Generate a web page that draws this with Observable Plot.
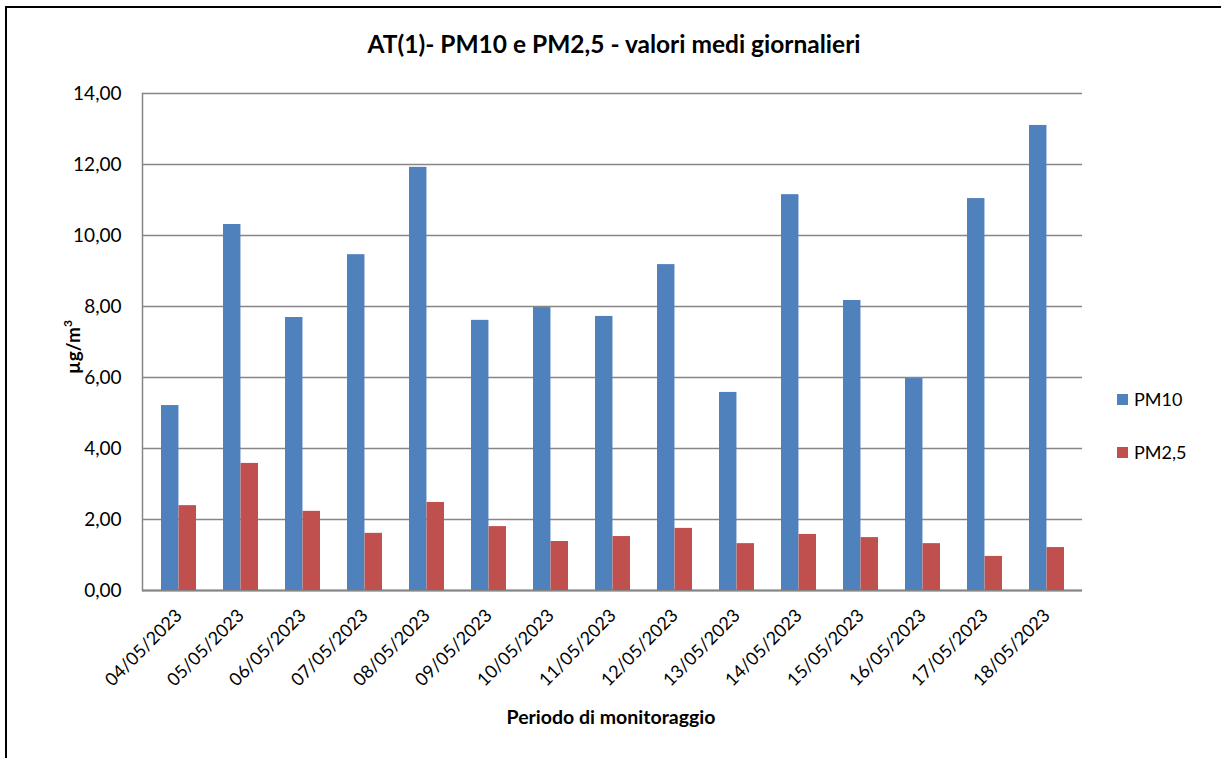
<!DOCTYPE html>
<html>
<head>
<meta charset="utf-8">
<script src="https://cdn.jsdelivr.net/npm/d3@7"></script>
<script src="https://cdn.jsdelivr.net/npm/@observablehq/plot@0.6"></script>
<style>
  html, body { margin:0; padding:0; background:#fff; }
  #wrap { position:relative; width:1221px; height:758px; overflow:hidden; font-family: Lato, "Open Sans", sans-serif; color:#000; }
  #border { position:absolute; left:5px; top:6px; width:1240px; height:780px; border:2px solid #000; box-sizing:border-box; }
  #title { position:absolute; left:0; width:1228px; top:29px; text-align:center; font-weight:bold; font-size:24.5px; }
  #xtitle { position:absolute; left:0; width:1222px; top:705px; text-align:center; font-weight:bold; font-size:19.5px; }
  #ytitle { position:absolute; left:72px; top:347px; transform:translate(-50%,-50%) rotate(-90deg); font-weight:bold; font-size:19px; white-space:nowrap; }
  #legend { position:absolute; left:1117px; top:387px; font-size:18px; }
  .li { display:flex; align-items:center; height:24px; margin-bottom:29px; }
  .sw { width:11px; height:11px; margin-right:6px; }
  #chart { position:absolute; left:0; top:0; }
</style>
</head>
<body>
<div id="wrap">
  <div id="chart"></div>
  <div id="border"></div>
  <div id="title">AT(1)- PM10 e PM2,5 - valori medi giornalieri</div>
  <div id="xtitle">Periodo di monitoraggio</div>
  <div id="ytitle">µg/m<sup style="font-size:12px">3</sup></div>
  <div id="legend"></div>
</div>
<script>
const dates = ["04/05/2023","05/05/2023","06/05/2023","07/05/2023","08/05/2023","09/05/2023","10/05/2023","11/05/2023","12/05/2023","13/05/2023","14/05/2023","15/05/2023","16/05/2023","17/05/2023","18/05/2023"];
const pm10 = [5.21, 10.31, 7.69, 9.46, 11.92, 7.61, 7.97, 7.72, 9.18, 5.58, 11.15, 8.17, 5.97, 11.04, 13.10];
const pm25 = [2.39, 3.58, 2.23, 1.61, 2.48, 1.80, 1.38, 1.52, 1.75, 1.32, 1.58, 1.49, 1.32, 0.96, 1.21];
const seriesNames = ["PM10", "PM2,5"];
const seriesColors = ["#4F81BD", "#C0504D"];
const yTicks = [0, 2, 4, 6, 8, 10, 12, 14];

const table = dates.map((d, i) => ({date: d, pm10: pm10[i], pm25: pm25[i]}));

const W = 1221, H = 758, ML = 142, MR = 139, MT = 93, MB = 168;
const pIn = 0.44, pOut = 0.22;
const step = (W - ML - MR) / (dates.length - pIn + 2 * pOut);
const half = step * (1 - pIn) / 2;

const fmt = d => d.toFixed(2).replace(".", ",");

const chart = Plot.plot({
  width: W, height: H,
  marginLeft: ML, marginRight: MR, marginTop: MT, marginBottom: MB,
  style: {fontFamily: "Lato, 'Open Sans', sans-serif", fontSize: "16px", background: "transparent", color: "#000"},
  x: {type: "band", domain: dates, paddingInner: pIn, paddingOuter: pOut, label: null},
  y: {domain: [0, 14], label: null},
  marks: [
    Plot.gridY(yTicks, {stroke: "#868686", strokeOpacity: 1, strokeWidth: 1.3}),
    Plot.frame({anchor: "left", stroke: "#868686", strokeWidth: 1.5}),
    Plot.ruleY([0], {stroke: "#868686", strokeWidth: 2}),
    Plot.barY(table, {x: "date", y: "pm10", fill: seriesColors[0], insetRight: half}),
    Plot.barY(table, {x: "date", y: "pm25", fill: seriesColors[1], insetLeft: half}),
    Plot.axisY(yTicks, {tickSize: 0, tickPadding: 21, tickFormat: fmt, fontSize: 19, label: null}),
    Plot.axisX({tickSize: 0, tickPadding: 22, tickRotate: -45, fontSize: 18, label: null})
  ]
});
document.getElementById("chart").appendChild(chart);

const leg = document.getElementById("legend");
seriesNames.forEach((n, i) => {
  const row = document.createElement("div");
  row.className = "li";
  row.innerHTML = `<div class="sw" style="background:${seriesColors[i]}"></div><span>${n}</span>`;
  leg.appendChild(row);
});
</script>
</body>
</html>
